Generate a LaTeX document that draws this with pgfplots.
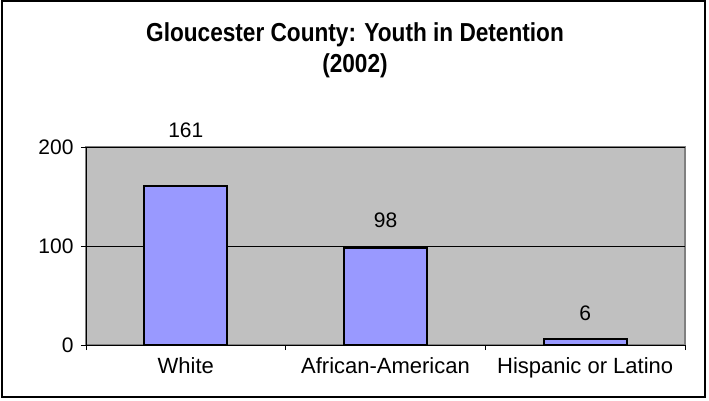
\documentclass[border=0pt]{standalone}
\usepackage{pgfplots}
\pgfplotsset{compat=1.18}
\usepackage{fontspec}
\setmainfont{Liberation Sans}
\newfontfamily\titlefont[FakeStretch=0.87]{Liberation Sans}
\definecolor{plotbg}{HTML}{C0C0C0}
\definecolor{barfill}{HTML}{9999FF}
\definecolor{frameg}{HTML}{808080}
\begin{document}
\begin{tikzpicture}[x=1pt,y=1pt]
\useasboundingbox (0,0) rectangle (709,400);
\draw[black, line width=1.2pt] (2,3) rectangle (705,399);
\node[font=\titlefont\bfseries\fontsize{26}{26}\selectfont, anchor=base] at (355,358) {Gloucester County: Youth in Detention};
\node[font=\titlefont\bfseries\fontsize{26}{26}\selectfont, anchor=base] at (355,328) {(2002)};
\begin{axis}[
  at={(86pt,55pt)}, anchor=south west,
  scale only axis, width=599pt, height=198pt,
  xmin=-0.5, xmax=2.5, ymin=0, ymax=200,
  clip=false,
  axis lines=left,
  axis line style={-, black, line width=1pt},
  axis background/.style={fill=plotbg, draw=frameg, line width=1.5pt},
  ytick={0,100,200},
  ymajorgrids,
  major grid style={black, line width=0.9pt},
  tick align=outside,
  major tick length=5pt,
  tick style={black, line width=1pt},
  xtick={0,1,2},
  xticklabels={White,African-American,Hispanic or Latino},
  major x tick style={draw=none},
  extra x ticks={-0.5,0.5,1.5,2.5},
  extra x tick labels={},
  extra x tick style={major x tick style={draw=black, line width=1pt}, xmajorgrids=false},
  xticklabel style={font=\fontsize{22}{22}\selectfont, yshift=-4pt},
  yticklabel style={font=\fontsize{21}{21}\selectfont, xshift=-4pt},
  /pgf/number format/assume math mode=true,
]
\addplot[ybar, bar width=83pt, fill=barfill, draw=black, line width=1.8pt] coordinates {(0,161) (1,98) (2,6)};
\addplot[draw=none, mark=none, nodes near coords, point meta=explicit symbolic,
  every node near coord/.style={anchor=center, font=\fontsize{21}{21}\selectfont, text=black}]
  coordinates {(0,216.7)[161] (1,126.3)[98] (2,32.3)[6]};
\end{axis}
\end{tikzpicture}
\end{document}
